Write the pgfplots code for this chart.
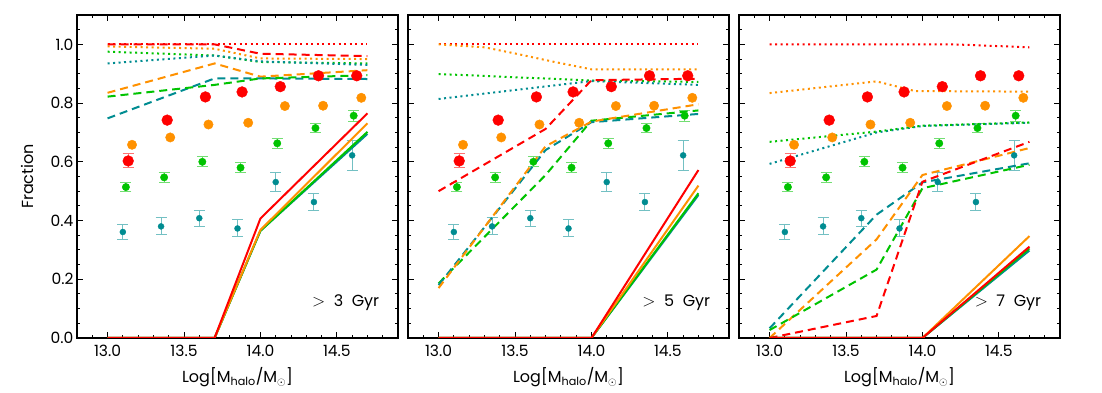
\documentclass[border=0pt]{standalone}
\usepackage{pgfplots}
\pgfplotsset{compat=1.18}
\usepackage{fontspec}
\setmainfont{Poppins}

\definecolor{cred}{RGB}{255,0,0}
\definecolor{corange}{RGB}{255,145,0}
\definecolor{cgreen}{RGB}{0,195,0}
\definecolor{cteal}{RGB}{0,140,145}

\pgfplotsset{
  panel/.style={
    scale only axis, width=321pt, height=323pt,
    xmin=12.8, xmax=14.9, ymin=0, ymax=1.1,
    xtick={13,13.5,14,14.5},
    minor xtick={12.9,13.1,13.2,13.3,13.4,13.6,13.7,13.8,13.9,14.1,14.2,14.3,14.4,14.6,14.7,14.8},
    ytick={0,0.2,0.4,0.6,0.8,1.0},
    minor ytick={0.05,0.1,0.15,0.25,0.3,0.35,0.45,0.5,0.55,0.65,0.7,0.75,0.85,0.9,0.95,1.05},
    tick align=inside, major tick length=6pt, minor tick length=3pt,
    every tick/.style={black, line width=1pt},
    axis line style={line width=1.6pt},
    /pgf/number format/assume math mode=true,
    xticklabel style={/pgf/number format/.cd, fixed, fixed zerofill, precision=1, /tikz/yshift=-4pt},
    yticklabel style={/pgf/number format/.cd, fixed, fixed zerofill, precision=1},
    tick label style={font=\fontsize{15.5}{17}\selectfont},
    label style={font=\fontsize{16}{18}\selectfont},
    xlabel={Log[M\textsubscript{halo}/M\textsubscript{$\odot$}]},
    xlabel style={yshift=-4pt},
    ylabel style={yshift=10pt},
  },
  dot/.style={line width=2pt, dash pattern=on 2pt off 3.5pt},
  dsh/.style={line width=2pt, dash pattern=on 8pt off 5pt},
  sol/.style={line width=2pt},
  errs/.style={draw=none, mark=none,
    error bars/.cd, y dir=both, y explicit,
    error bar style={draw=#1!55, line width=1pt},
    error mark options={rotate=90, mark size=5.5pt, draw=#1!55, line width=1pt}},
}

\newcommand{\commonpoints}{%
  \addplot[errs=cteal] coordinates {(13.10,0.361)+-(0,0.027) (13.35,0.380)+-(0,0.029) (13.60,0.408)+-(0,0.027)
      (13.85,0.373)+-(0,0.029) (14.10,0.531)+-(0,0.031) (14.35,0.463)+-(0,0.028) (14.60,0.622)+-(0,0.05)};
  \addplot[only marks, mark=*, mark size=3pt, color=cteal]
    coordinates {(13.10,0.361) (13.35,0.380) (13.60,0.408) (13.85,0.373) (14.10,0.531) (14.35,0.463) (14.60,0.622)};
  \addplot[errs=cgreen] coordinates {(13.12,0.514)+-(0,0.016) (13.37,0.547)+-(0,0.016) (13.62,0.600)+-(0,0.017)
      (13.87,0.580)+-(0,0.016) (14.11,0.663)+-(0,0.016) (14.36,0.715)+-(0,0.016) (14.61,0.757)+-(0,0.019)};
  \addplot[only marks, mark=*, mark size=3.7pt, color=cgreen]
    coordinates {(13.12,0.514) (13.37,0.547) (13.62,0.600) (13.87,0.580) (14.11,0.663) (14.36,0.715) (14.61,0.757)};
  \addplot[only marks, mark=*, mark size=4.7pt, color=corange]
    coordinates {(13.16,0.658) (13.41,0.683) (13.66,0.727) (13.92,0.733) (14.16,0.790) (14.41,0.791) (14.66,0.818)};
  \addplot[errs=cred] coordinates {(13.135,0.603)+-(0,0.024)};
  \addplot[only marks, mark=*, mark size=5.4pt, color=cred]
    coordinates {(13.135,0.603) (13.39,0.742) (13.64,0.821) (13.88,0.838) (14.13,0.856) (14.38,0.893) (14.63,0.893)};
}

\newcommand{\agelabel}[1]{%
  \node[anchor=east, font=\fontsize{16}{18}\selectfont] at (axis cs:14.80,0.12) {$>$\ \ #1\ \ Gyr};}

\begin{document}
\begin{tikzpicture}
\useasboundingbox (-77pt,-55pt) rectangle (1025pt,338pt);

% > 3 Gyr
\begin{axis}[panel, name=ax1, at={(0pt,0pt)}, anchor=south west, ylabel={Fraction}]
  \commonpoints
  \addplot[dot, cred] coordinates {(13.0,1.0) (14.7,1.0)};
  \addplot[dot, corange] coordinates {(13.0,0.993) (13.7,0.985) (14.0,0.952) (14.7,0.950)};
  \addplot[dot, cgreen] coordinates {(13.0,0.975) (13.7,0.962) (14.0,0.940) (14.7,0.935)};
  \addplot[dot, cteal] coordinates {(13.0,0.935) (13.7,0.962) (14.0,0.942) (14.7,0.930)};
  \addplot[dsh, cred] coordinates {(13.0,1.0) (13.7,1.0) (14.0,0.968) (14.7,0.960)};
  \addplot[dsh, corange] coordinates {(13.0,0.835) (13.7,0.935) (14.0,0.890) (14.7,0.912)};
  \addplot[dsh, cteal] coordinates {(13.0,0.748) (13.7,0.884) (14.0,0.884) (14.7,0.882)};
  \addplot[dsh, cgreen] coordinates {(13.0,0.822) (13.7,0.862) (14.0,0.884) (14.7,0.895)};
  \addplot[sol, cteal] coordinates {(13.0,0) (13.7,0) (14.0,0.365) (14.7,0.695)};
  \addplot[sol, cgreen] coordinates {(13.0,0) (13.7,0) (14.0,0.365) (14.7,0.702)};
  \addplot[sol, corange] coordinates {(13.0,0) (13.7,0) (14.0,0.368) (14.7,0.731)};
  \addplot[sol, cred] coordinates {(13.0,0) (13.7,0) (14.0,0.407) (14.7,0.765)};
  \agelabel{3}
\end{axis}

% > 5 Gyr
\begin{axis}[panel, name=ax2, at={(331pt,0pt)}, anchor=south west, yticklabels={}]
  \commonpoints
  \addplot[dot, cred] coordinates {(13.0,1.0) (14.7,1.0)};
  \addplot[dot, corange] coordinates {(13.0,1.0) (13.3,0.99) (13.5,0.969) (13.75,0.941) (14.0,0.915) (14.7,0.915)};
  \addplot[dot, cgreen] coordinates {(13.0,0.899) (14.0,0.877) (14.7,0.872)};
  \addplot[dot, cteal] coordinates {(13.0,0.814) (14.0,0.875) (14.7,0.862)};
  \addplot[dsh, cred] coordinates {(13.0,0.50) (13.7,0.712) (14.0,0.878) (14.7,0.883)};
  \addplot[dsh, cgreen] coordinates {(13.0,0.186) (13.7,0.555) (14.0,0.740) (14.7,0.775)};
  \addplot[dsh, cteal] coordinates {(13.0,0.180) (13.7,0.640) (14.0,0.735) (14.7,0.763)};
  \addplot[dsh, corange] coordinates {(13.0,0.170) (13.7,0.653) (14.0,0.737) (14.7,0.796)};
  \addplot[sol, cteal] coordinates {(13.0,0) (14.0,0) (14.7,0.487)};
  \addplot[sol, cgreen] coordinates {(13.0,0) (14.0,0) (14.7,0.493)};
  \addplot[sol, corange] coordinates {(13.0,0) (14.0,0) (14.7,0.519)};
  \addplot[sol, cred] coordinates {(13.0,0) (14.0,0) (14.7,0.572)};
  \agelabel{5}
\end{axis}

% > 7 Gyr
\begin{axis}[panel, name=ax3, at={(662pt,0pt)}, anchor=south west, yticklabels={}]
  \commonpoints
  \addplot[dot, cred] coordinates {(13.0,1.0) (14.2,1.0) (14.7,0.990)};
  \addplot[dot, corange] coordinates {(13.0,0.834) (13.7,0.874) (13.95,0.841) (14.7,0.839)};
  \addplot[dot, cteal] coordinates {(13.0,0.593) (13.7,0.700) (14.0,0.722) (14.7,0.733)};
  \addplot[dot, cgreen] coordinates {(13.0,0.668) (13.7,0.703) (14.0,0.723) (14.7,0.734)};
  \addplot[dsh, cteal] coordinates {(13.0,0.033) (13.7,0.420) (14.0,0.530) (14.7,0.595)};
  \addplot[dsh, corange] coordinates {(13.0,0.0) (13.7,0.336) (14.0,0.555) (14.7,0.647)};
  \addplot[dsh, cgreen] coordinates {(13.0,0.027) (13.7,0.233) (14.0,0.510) (14.7,0.590)};
  \addplot[dsh, cred] coordinates {(13.0,0.0) (13.7,0.075) (14.0,0.532) (14.7,0.668)};
  \addplot[sol, cteal] coordinates {(13.0,0) (14.0,0) (14.7,0.298)};
  \addplot[sol, cgreen] coordinates {(13.0,0) (14.0,0) (14.7,0.305)};
  \addplot[sol, corange] coordinates {(13.0,0) (14.0,0) (14.7,0.347)};
  \addplot[sol, cred] coordinates {(13.0,0) (14.0,0) (14.7,0.311)};
  \agelabel{7}
\end{axis}
\end{tikzpicture}
\end{document}
